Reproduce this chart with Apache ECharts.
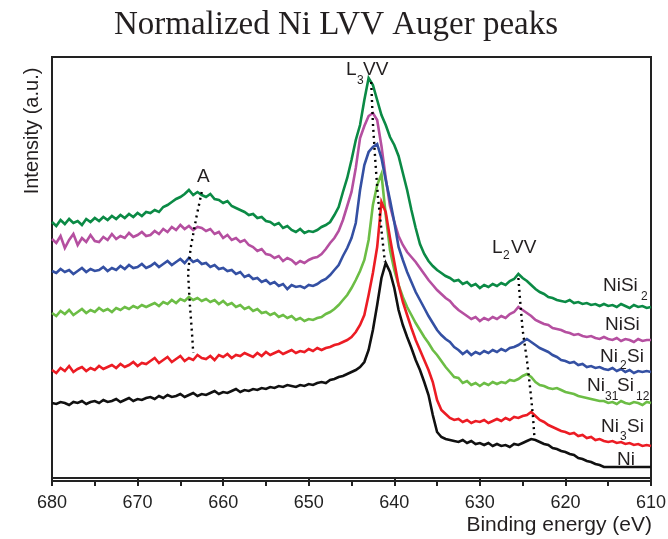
<!DOCTYPE html>
<html><head><meta charset="utf-8">
<script src="https://cdn.jsdelivr.net/npm/echarts@6/dist/echarts.min.js"></script>
<style>html,body{margin:0;padding:0;background:#fff}#c{width:668px;height:539px}</style>
</head><body><div id="c"></div>
<script>
// Binding energy (eV), 0.5 eV steps
const energies = [
680,679.5,679,678.5,678,677.5,677,676.5,676,675.5,
675,674.5,674,673.5,673,672.5,672,671.5,671,670.5,
670,669.5,669,668.5,668,667.5,667,666.5,666,665.5,
665,664.5,664,663.5,663,662.5,662,661.5,661,660.5,
660,659.5,659,658.5,658,657.5,657,656.5,656,655.5,
655,654.5,654,653.5,653,652.5,652,651.5,651,650.5,
650,649.5,649,648.5,648,647.5,647,646.5,646,645.5,
645,644.5,644,643.5,643,642.5,642,641.5,641,640.5,
640,639.5,639,638.5,638,637.5,637,636.5,636,635.5,
635,634.5,634,633.5,633,632.5,632,631.5,631,630.5,
630,629.5,629,628.5,628,627.5,627,626.5,626,625.5,
625,624.5,624,623.5,623,622.5,622,621.5,621,620.5,
620,619.5,619,618.5,618,617.5,617,616.5,616,615.5,
615,614.5,614,613.5,613,612.5,612,611.5,611,610.5,
610];

// Intensities (a.u., offset-stacked as in the figure)
const ni = [
75,74,76,75,73,76,75,77,74,76,
77,75,78,76,77,79,76,78,80,77,
79,78,80,81,79,82,80,83,81,82,
84,81,83,85,82,84,83,85,87,84,
86,85,87,89,86,88,87,89,88,90,
89,91,90,92,91,93,92,91,93,92,
94,93,95,96,95,98,99,101,102,104,
106,108,111,116,128,148,173,200,215,206,
190,168,153,141,130,118,108,96,83,63,
46,41,39,38,37,36,38,35,37,34,
35,33,35,32,34,32,33,31,34,33,
35,37,39,38,36,34,33,30,29,27,
26,24,23,20,19,17,16,14,13,11,
11,11,11,11,11,11,11,11,11,11,
11];
const ni3si = [
108,105,110,107,112,106,109,111,107,110,
108,112,109,111,113,110,114,111,113,116,
112,115,114,117,120,115,118,121,116,119,
122,117,120,118,123,120,119,122,118,123,
121,124,120,123,122,125,123,121,125,122,
126,123,125,127,124,126,128,125,127,126,
129,127,130,128,130,131,133,134,136,138,
141,146,153,163,183,205,231,276,266,240,
216,193,176,163,150,138,128,118,108,96,
78,68,64,60,58,59,56,58,55,57,
56,58,55,57,59,57,60,58,61,60,
62,63,66,62,58,56,53,51,49,47,
46,44,45,42,43,40,41,38,39,37,
36,37,35,36,34,35,33,34,32,33,
32];
const ni31si12 = [
165,162,167,164,168,163,166,169,165,168,
166,170,167,169,166,170,168,171,169,172,
170,173,171,173,175,172,176,174,178,175,
179,177,181,178,180,177,179,176,178,174,
177,173,175,171,173,169,171,167,169,165,
166,163,165,161,163,160,162,158,160,157,
159,158,160,161,164,166,169,173,178,183,
190,198,207,218,238,273,293,304,263,228,
208,193,181,171,163,155,148,141,135,128,
123,117,111,106,101,100,95,97,93,95,
92,95,93,96,94,96,95,98,97,99,
102,104,101,96,93,92,90,89,90,88,
86,85,84,82,81,80,79,78,77,77,
75,76,74,77,75,74,76,75,73,76,
75];
const ni2si = [
207,205,209,206,208,204,207,210,206,209,
207,208,211,207,210,208,212,209,213,210,
211,214,210,212,215,211,214,217,213,216,
219,215,220,216,218,214,215,211,213,209,
210,207,208,204,206,201,203,199,200,196,
198,194,196,192,194,189,193,191,192,190,
193,192,194,197,199,203,208,213,222,230,
240,255,288,313,326,331,334,320,298,278,
256,231,218,206,196,186,178,170,162,155,
148,143,139,136,131,128,124,127,123,126,
124,127,125,128,126,129,127,130,131,133,
136,139,136,133,130,128,126,123,121,118,
117,115,116,113,114,111,112,110,111,109,
108,110,107,109,106,108,105,107,106,107,
106];
const nisi = [
239,235,242,230,238,244,233,240,236,243,
237,236,241,238,244,239,242,240,245,241,
243,246,242,243,247,244,249,246,251,248,
253,249,252,248,251,250,247,249,244,246,
240,243,238,240,236,238,233,231,227,229,
224,223,220,222,217,220,218,214,217,215,
218,220,221,224,229,235,240,247,258,272,
286,310,340,352,362,365,358,332,300,272,
256,242,233,226,221,216,210,204,198,193,
188,184,180,177,172,168,165,162,159,161,
157,160,158,161,159,162,160,164,166,171,
168,165,162,158,156,154,153,150,149,148,
146,145,143,144,142,141,142,140,139,141,
139,138,140,137,139,138,136,139,137,138,
138];
const nisi2 = [
256,252,258,254,259,255,257,253,259,256,
260,257,261,258,262,259,263,260,264,261,
265,262,266,265,268,266,271,273,276,279,
281,284,288,283,286,283,281,284,279,278,
275,277,272,270,268,266,263,264,260,261,
257,256,253,255,250,252,248,246,249,245,
247,246,248,251,253,256,263,271,286,300,
318,338,353,378,400,393,378,363,353,341,
333,322,305,288,268,250,234,224,217,212,
208,205,202,200,197,198,194,196,192,194,
190,193,191,194,192,195,193,197,199,204,
200,197,193,189,186,184,181,180,178,177,
176,178,175,176,174,175,173,174,172,174,
172,173,171,174,172,170,173,171,172,170,
171];

// Peak-tracking guide lines [energy, intensity]
const guideA  = [[662.5,286],[663.1,262],[663.8,230],[664.1,205],[663.9,175],[663.6,140],[663.5,125]];
const guideL3 = [[642.7,396],[642.5,355],[642.2,315],[641.9,280],[641.5,248],[641.1,216]];
const guideL2 = [[625.5,200],[625.3,178],[625.0,148],[624.5,118],[624.1,88],[623.8,62],[623.6,38]];

const xTicks = [610,620,630,640,650,660,670,680];
const xMinorTicks = [615,625,635,645,655,665,675];

const seriesDefs = [
  {name:'NiSi2', data:nisi2, color:'#0b8a45'},
  {name:'NiSi', data:nisi, color:'#b54fa0'},
  {name:'Ni2Si', data:ni2si, color:'#3450a3'},
  {name:'Ni31Si12', data:ni31si12, color:'#6cbd45'},
  {name:'Ni3Si', data:ni3si, color:'#ec1c24'},
  {name:'Ni', data:ni, color:'#111111'}
];

const FONT = '"Liberation Sans", Arial, sans-serif';
const TXT = '#231f20';

const series = seriesDefs.map(d => ({
  type:'line', name:d.name, symbol:'none', animation:false,
  data: energies.map((e,k)=>[e, d.data[k]]),
  lineStyle:{color:d.color, width:2.6, join:'miter'}, z:2
}));
[guideA, guideL3, guideL2].forEach(g => series.push({
  type:'line', symbol:'none', animation:false, data:g, z:5,
  lineStyle:{color:'#000', width:2.4, type:[2,4]}
}));

function t(text, x, y, size, extra) {
  return Object.assign({type:'text', x:x, y:y, z:100,
    style:{text:text, fill:TXT, font: size + 'px ' + FONT, align:'left', verticalAlign:'middle'}}, extra||{});
}

const graphics = [
  {type:'text', x:336, y:25, z:100, style:{text:'Normalized Ni LVV Auger peaks', fill:TXT,
    font:'33px "Liberation Serif", "Times New Roman", serif', align:'center', verticalAlign:'middle'}},
  {type:'text', x:32, y:131, rotation:Math.PI/2, z:100, style:{text:'Intensity (a.u.)', fill:TXT,
    font:'20px ' + FONT, align:'center', verticalAlign:'middle'}},
  {type:'text', x:652, y:525, z:100, style:{text:'Binding energy (eV)', fill:TXT,
    font:'21px ' + FONT, align:'right', verticalAlign:'middle'}},
  t('A', 197, 177, 19),
  t('L', 346, 70, 19), t('3', 357, 81, 12), t('VV', 363, 70, 19),
  t('L', 492, 248, 19), t('2', 503, 256, 12), t('VV', 511, 248, 19),
  t('NiSi', 603, 286, 19), t('2', 641, 297, 12),
  t('NiSi', 605, 325, 19),
  t('Ni', 600, 357, 19), t('2', 620, 366, 12), t('Si', 627, 357, 19),
  t('Ni', 587, 386, 19), t('31', 605, 397, 12), t('Si', 617, 386, 19), t('12', 636, 397, 12),
  t('Ni', 601, 427, 19), t('3', 620, 437, 12), t('Si', 627, 427, 19),
  t('Ni', 617, 460, 19)
];

const chart = echarts.init(document.getElementById('c'), null, {renderer:'canvas'});
chart.setOption({
  animation:false,
  backgroundColor:'#fff',
  grid:{left:52, right:17, top:57, bottom:58, show:true, borderColor:'#222', borderWidth:2, outerBoundsMode:'none'},
  xAxis:[{type:'value', inverse:true, min:610, max:680, interval:10,
    axisLine:{show:true, lineStyle:{color:'#222', width:2}},
    axisTick:{show:true, length:8, lineStyle:{color:'#222', width:2}},
    splitLine:{show:false},
    axisLabel:{color:'#222', fontSize:18, fontFamily:FONT, margin:13, customValues: xTicks}
  },{type:'value', inverse:true, min:610, max:680, interval:5, position:'bottom',
    axisLine:{show:false},
    axisTick:{show:true, length:5, lineStyle:{color:'#222', width:2}, customValues: xMinorTicks},
    axisLabel:{show:false}, splitLine:{show:false}
  }],
  yAxis:{type:'value', min:-3, max:421, show:true,
    axisLine:{show:false}, axisTick:{show:false}, axisLabel:{show:false}, splitLine:{show:false}},
  series: series,
  graphic: graphics
});
</script></body></html>
